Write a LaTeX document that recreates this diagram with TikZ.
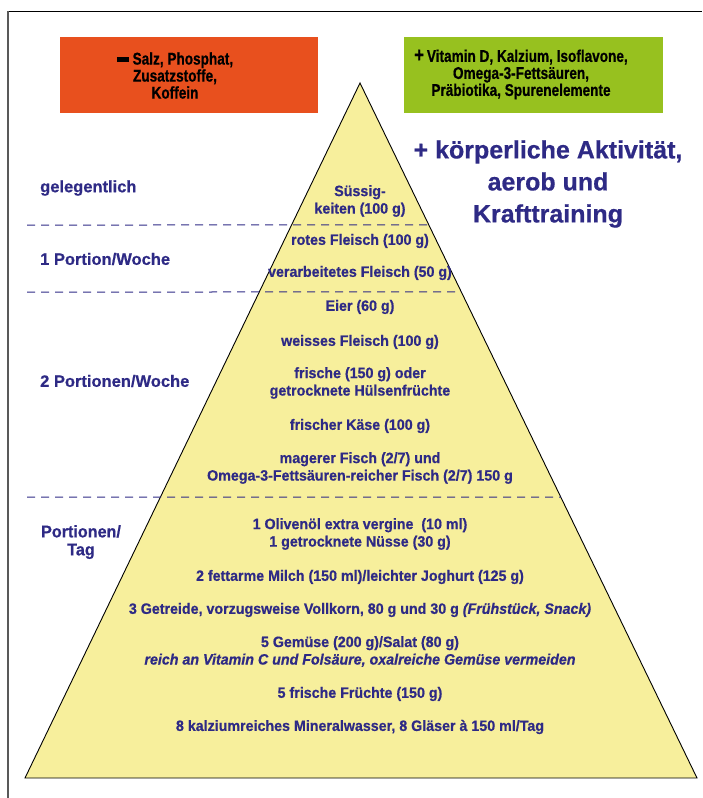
\documentclass[tikz,border=0pt]{standalone}
\usepackage{fontspec}
\setmainfont{Liberation Sans}
\newfontfamily\condfnt{Liberation Sans}[FakeStretch=0.8,FakeBold=0.6]
\newfontfamily\midfnt{Liberation Sans}[FakeStretch=0.95,FakeBold=0.6]
\newfontfamily\widefnt{Liberation Sans}[FakeStretch=1.0,FakeBold=0.6]
\usetikzlibrary{calc}
\definecolor{txtblue}{HTML}{2E2A85}
\definecolor{boxred}{HTML}{E8501E}
\definecolor{boxgreen}{HTML}{97C11F}
\definecolor{pyrfill}{HTML}{F7EF9C}
\tikzset{
  ptxt/.style={text=txtblue, font=\midfnt\bfseries\fontsize{15}{17.5}\selectfont, align=center, inner sep=0pt},
  ltxt/.style={text=txtblue, font=\widefnt\bfseries\fontsize{16.5}{19}\selectfont, align=left, anchor=west, inner sep=0pt},
  boxtxt/.style={text=black, font=\condfnt\bfseries\fontsize{17}{17}\selectfont, align=center, inner sep=0pt},
  sepline/.style={draw=txtblue, line width=1pt, dash pattern=on 8pt off 6pt},
}
\begin{document}
\begin{tikzpicture}[x=1pt,y=-1pt]
\useasboundingbox (0,0) rectangle (702,798);
% frame
\draw[black, line width=1pt] (7,11) -- (702,11);
\draw[gray!70!black, line width=1.2pt] (8,11) -- (8,798);
% top boxes
\node[fill=boxred, minimum width=258pt, minimum height=76pt, inner sep=0pt] (neg) at (189,75) {};
\node[boxtxt] (negt) at (175,75.5) {\rule[0.25ex]{12pt}{5pt}\ Salz, Phosphat,\\Zusatzstoffe,\\Koffein};
\node[fill=boxgreen, minimum width=259pt, minimum height=76pt, inner sep=0pt] (pos) at (533,75) {};
\node[boxtxt] (post) at (521,74.5) {{\fontsize{21}{17}\selectfont +}\,Vitamin D, Kalzium, Isoflavone,\\Omega-3-Fetts\"auren,\\Pr\"abiotika, Spurenelemente};
% pyramid
\coordinate (apex) at (360,83);
\coordinate (bl) at (25,778);
\coordinate (br) at (697,778);
\draw[fill=pyrfill, line width=0.9pt] (apex) -- (br) -- (bl) -- cycle;
% separators
\coordinate (s1) at (27,225);
\coordinate (s2) at (27,292);
\coordinate (s3) at (27,497);
\draw[sepline] (s1) -- ($(apex)!0.2043!(br)$);
\draw[sepline] (s2) -- ($(apex)!0.3007!(br)$);
\draw[sepline] (s3) -- ($(apex)!0.5957!(br)$);
% right text
\node[text=txtblue, font=\widefnt\bfseries\fontsize{25}{32}\selectfont, align=center, inner sep=0pt] (act) at (548,184) {+ k\"orperliche Aktivit\"at,\\aerob und\\Krafttraining};
% left labels
\node[ltxt] (l1) at (40,188) {gelegentlich};
\node[ltxt] (l2) at (40,259) {1 Portion/Woche};
\node[ltxt] (l3) at (40,381) {2 Portionen/Woche};
\node[ptxt, font=\midfnt\bfseries\fontsize{17}{18}\selectfont] (l4) at (81,542) {Portionen/\\Tag};
% pyramid texts
\node[ptxt] (p1) at (360,201) {S\"ussig-\\keiten (100 g)};
\node[ptxt] (p2) at (360,241) {rotes Fleisch (100 g)};
\node[ptxt] (p3) at (360,273) {verarbeitetes Fleisch (50 g)};
\node[ptxt] (p4) at (360,307) {Eier (60 g)};
\node[ptxt] (p5) at (360,342) {weisses Fleisch (100 g)};
\node[ptxt] (p6) at (360,383) {frische (150 g) oder\\getrocknete H\"ulsenfr\"uchte};
\node[ptxt] (p7) at (360,426) {frischer K\"ase (100 g)};
\node[ptxt] (p8) at (360,468) {magerer Fisch (2/7) und\\Omega-3-Fetts\"auren-reicher Fisch (2/7) 150 g};
\node[ptxt] (p9) at (360,534) {1 Oliven\"ol extra vergine\ \ (10 ml)\\1 getrocknete N\"usse (30 g)};
\node[ptxt] (p10) at (360,577) {2 fettarme Milch (150 ml)/leichter Joghurt (125 g)};
\node[ptxt] (p11) at (360,610) {3 Getreide, vorzugsweise Vollkorn, 80 g und 30 g \textit{(Fr\"uhst\"uck, Snack)}};
\node[ptxt] (p12) at (360,651.5) {5 Gem\"use (200 g)/Salat (80 g)\\\textit{reich an Vitamin C und Fols\"aure, oxalreiche Gem\"use vermeiden}};
\node[ptxt] (p13) at (360,694) {5 frische Fr\"uchte (150 g)};
\node[ptxt] (p14) at (360,727) {8 kalziumreiches Mineralwasser, 8 Gl\"aser \`a 150 ml/Tag};
\end{tikzpicture}
\end{document}
